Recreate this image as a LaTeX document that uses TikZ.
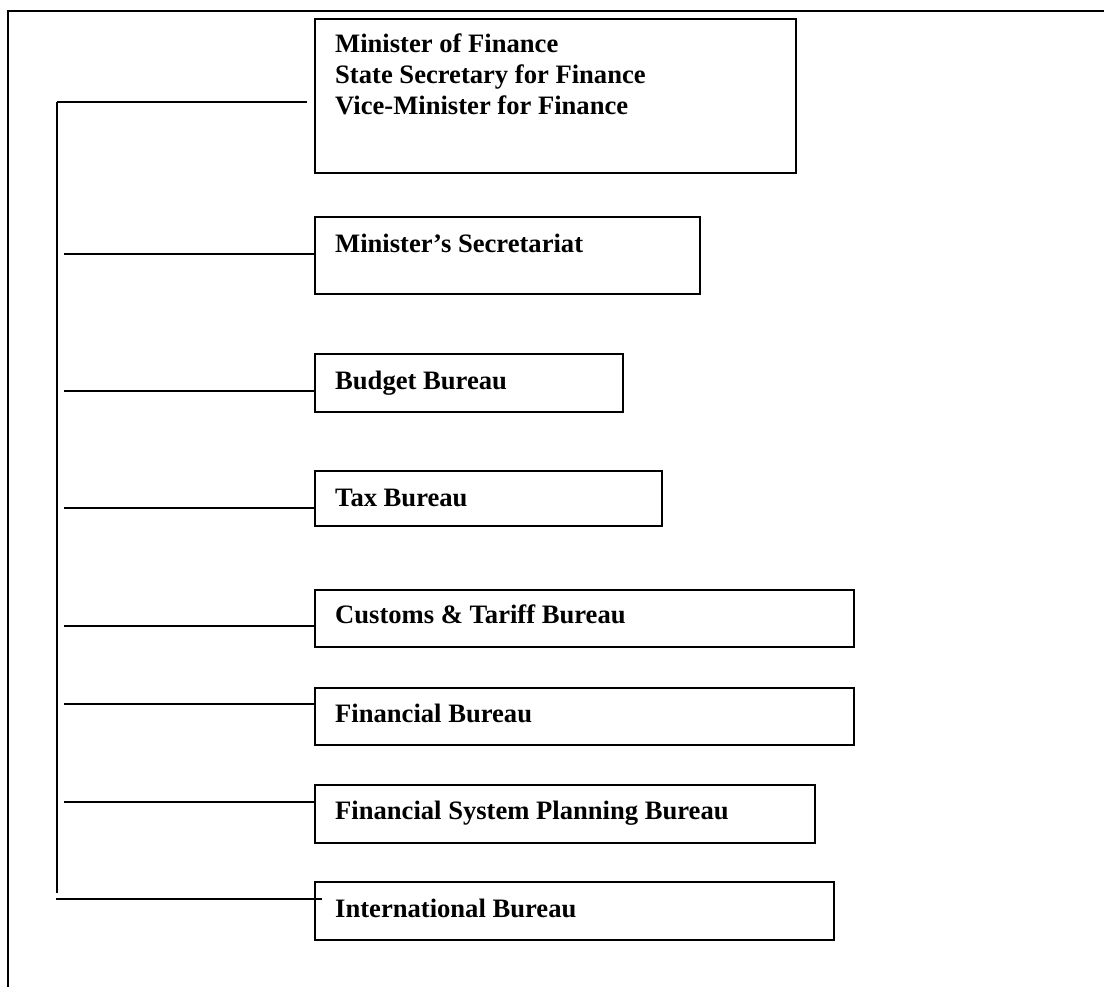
\documentclass[tikz,border=0pt]{standalone}
\usepackage{fontspec}
\setmainfont{Liberation Serif}
\usetikzlibrary{calc}
\begin{document}
\begin{tikzpicture}[x=1pt,y=-1pt,
  frame/.style={line width=2.4pt},
  conn/.style={line width=2pt},
  box/.style={draw,line width=2pt,rectangle,inner sep=0pt,anchor=north west},
  lbl/.style={anchor=base west,inner sep=0pt,font=\fontsize{26.6}{31}\selectfont\bfseries,align=left}]
\useasboundingbox (0,0) rectangle (1104,987);
% outer frame (top and left edges)
\coordinate (fbl) at (8,990);
\coordinate (ftl) at (8,11);
\coordinate (ftr) at (1106,11);
\draw[frame] (fbl) -- (ftl) -- (ftr);
% boxes
\node[box,minimum width=481pt,minimum height=154pt] (b1) at (314,17.7) {};
\node[box,minimum width=385pt,minimum height=77pt] (b2) at (314,216) {};
\node[box,minimum width=308pt,minimum height=58pt] (b3) at (314,352.7) {};
\node[box,minimum width=347pt,minimum height=55pt] (b4) at (314,470) {};
\node[box,minimum width=539pt,minimum height=57pt] (b5) at (314,589) {};
\node[box,minimum width=539pt,minimum height=57pt] (b6) at (314,687) {};
\node[box,minimum width=500pt,minimum height=58pt] (b7) at (314,784) {};
\node[box,minimum width=519pt,minimum height=58pt] (b8) at (314,881) {};
% labels
\node[lbl] (t1a) at (335,52.3) {Minister of Finance};
\node[lbl] (t1b) at (335,83.3) {State Secretary for Finance};
\node[lbl] (t1c) at (335,114.3) {Vice-Minister for Finance};
\node[lbl] (t2) at (335,252.7) {Minister’s Secretariat};
\node[lbl] (t3) at (335,389) {Budget Bureau};
\node[lbl] (t4) at (335,506) {Tax Bureau};
\node[lbl] (t5) at (335,623.5) {Customs \& Tariff Bureau};
\node[lbl] (t6) at (335,722) {Financial Bureau};
\node[lbl] (t7) at (335,819.5) {Financial System Planning Bureau};
\node[lbl] (t8) at (335,917) {International Bureau};
% spine
\coordinate (sTop) at (57,101.7);
\coordinate (sBot) at (57,893);
\draw[conn] (sTop) -- (sBot);
\draw[conn] (sTop) -- ($(b1.west |- sTop)+(-7,0)$);
% branch lines
\coordinate (l2) at (64,254.3);
\coordinate (l3) at (64,391.3);
\coordinate (l4) at (64,508.3);
\coordinate (l5) at (64,625.7);
\coordinate (l6) at (64,704.3);
\coordinate (l7) at (64,801.7);
\coordinate (l8) at (56.2,899);
\draw[conn] (l2) -- (l2 -| b2.west);
\draw[conn] (l3) -- (l3 -| b3.west);
\draw[conn] (l4) -- (l4 -| b4.west);
\draw[conn] (l5) -- (l5 -| b5.west);
\draw[conn] (l6) -- (l6 -| b6.west);
\draw[conn] (l7) -- (l7 -| b7.west);
\draw[conn] (l8) -- ($(l8 -| b8.west)+(8,0)$);
\end{tikzpicture}
\end{document}
